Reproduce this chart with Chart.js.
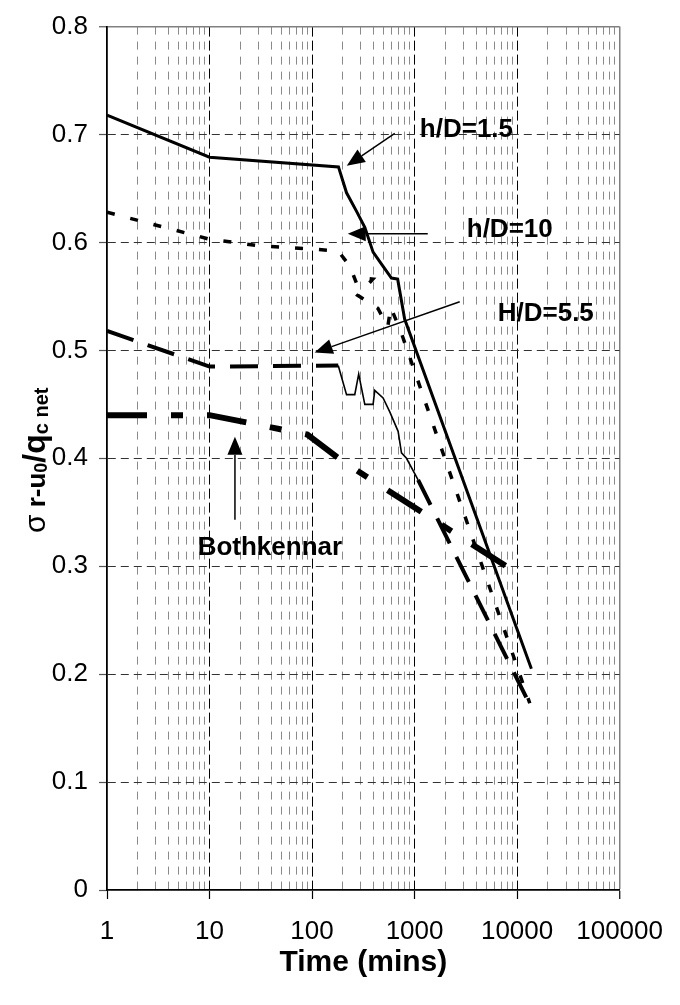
<!DOCTYPE html>
<html>
<head>
<meta charset="utf-8">
<script src="https://cdn.jsdelivr.net/npm/chart.js@4.4.0/dist/chart.umd.min.js"></script>
<style>
  html, body { margin: 0; padding: 0; background: #fff; }
  #wrap { width: 680px; height: 1005px; }
</style>
</head>
<body>
<div id="wrap"><canvas id="chart" width="680" height="1005"></canvas></div>
<script>
// values
const xMajorTicks = [1, 10, 100, 1000, 10000, 100000];

const hd15Time  = [1, 10, 181, 217, 271, 327, 394, 476, 595, 684, 800, 13780];
const hd15Ratio = [0.718, 0.679, 0.670, 0.646, 0.629, 0.614, 0.591, 0.580, 0.567, 0.566, 0.529, 0.205];

const hd10Time  = [1, 10, 30, 100, 180, 234, 272, 313, 391, 279, 438, 548, 586, 750, 13300];
const hd10Ratio = [0.628, 0.603, 0.597, 0.594, 0.592, 0.578, 0.562, 0.567, 0.566, 0.551, 0.539, 0.522, 0.540, 0.515, 0.173];

const hd55HeadTime  = [1, 10, 180];
const hd55HeadRatio = [0.518, 0.485, 0.486];
const hd55MidTime   = [180, 217, 261, 285, 327, 394, 409, 493, 573, 691, 745, 834, 1082];
const hd55MidRatio  = [0.486, 0.459, 0.459, 0.478, 0.450, 0.450, 0.463, 0.456, 0.443, 0.425, 0.405, 0.400, 0.380];
const hd55TailTime  = [1082, 13270];
const hd55TailRatio = [0.380, 0.172];

const bothTime  = [1, 10, 90, 200, 10600];
const bothRatio = [0.440, 0.440, 0.422, 0.397, 0.292];

// annotations (data coordinates)
const noteText   = ['h/D=1.5', 'h/D=10', 'H/D=5.5', 'Bothkennar'];
const noteTime   = [1125, 3228, 6470, 38.8];
const noteRatio  = [0.704, 0.612, 0.534, 0.317];
const arrowFromT = [641, 1345, 2756, 17.7];
const arrowFromR = [0.701, 0.608, 0.545, 0.343];
const arrowToT   = [218, 223, 106, 17.7];
const arrowToR   = [0.671, 0.608, 0.498, 0.420];

const FONT = '"Liberation Sans", Arial, sans-serif';

function pts(xs, ys) {
    return xs.map((x, i) => ({ x: x, y: ys[i] }));
}

// every 1..9 x 10^k for the minor grid
const xGridTicks = [];
xMajorTicks.forEach((m, i) => {
    const last = i === xMajorTicks.length - 1;
    for (let k = 1; k <= (last ? 1 : 9); k++) xGridTicks.push(m * k);
});
const isMajor = v => xMajorTicks.includes(v);

function drawArrow(ctx, x0, y0, x1, y1) {
    const ang = Math.atan2(y1 - y0, x1 - x0);
    const len = 18, half = 7.5;
    const bx = x1 - len * Math.cos(ang), by = y1 - len * Math.sin(ang);
    ctx.beginPath();
    ctx.moveTo(x0, y0);
    ctx.lineTo(bx, by);
    ctx.stroke();
    ctx.beginPath();
    ctx.moveTo(x1, y1);
    ctx.lineTo(bx + half * Math.sin(ang), by - half * Math.cos(ang));
    ctx.lineTo(bx - half * Math.sin(ang), by + half * Math.cos(ang));
    ctx.closePath();
    ctx.fill();
}

const decorations = {
    id: 'decorations',
    afterDraw(chart) {
        const { ctx, chartArea: a, scales: { x, y } } = chart;
        ctx.save();
        ctx.fillStyle = '#000';
        ctx.strokeStyle = '#000';
        ctx.lineWidth = 1.5;

        // arrows
        for (let i = 0; i < noteText.length; i++) {
            drawArrow(ctx,
                x.getPixelForValue(arrowFromT[i]), y.getPixelForValue(arrowFromR[i]),
                x.getPixelForValue(arrowToT[i]), y.getPixelForValue(arrowToR[i]));
        }

        // labels
        ctx.font = 'bold 26px ' + FONT;
        ctx.textBaseline = 'middle';
        noteText.forEach((t, i) => {
            ctx.textAlign = i === 3 ? 'center' : 'left';
            ctx.fillText(t, x.getPixelForValue(noteTime[i]), y.getPixelForValue(noteRatio[i]));
        });

        // x title
        ctx.textAlign = 'center';
        ctx.font = 'bold 30px ' + FONT;
        ctx.fillText('Time (mins)', (a.left + a.right) / 2, 963);

        // y title: σ r-u0/qc net
        const parts = [
            { t: '\u03C3', f: '30px ' + FONT, dy: 0 },
            { t: ' r-u', f: 'bold 26px ' + FONT, dy: 0 },
            { t: '0', f: 'bold 18px ' + FONT, dy: 2 },
            { t: '/q', f: 'bold 32px ' + FONT, dy: 0 },
            { t: 'c net', f: 'bold 20px ' + FONT, dy: 3 }
        ];
        let total = 0;
        parts.forEach(p => { ctx.font = p.f; p.w = ctx.measureText(p.t).width; total += p.w; });
        ctx.translate(45, (a.top + a.bottom) / 2 + 2);
        ctx.rotate(-Math.PI / 2);
        ctx.textAlign = 'left';
        ctx.textBaseline = 'alphabetic';
        let cx = -total / 2;
        parts.forEach(p => {
            ctx.font = p.f;
            ctx.fillText(p.t, cx, p.dy);
            cx += p.w;
        });
        ctx.restore();
    }
};

const line = { showLine: true, pointRadius: 0, borderColor: '#000', backgroundColor: '#000',
               tension: 0, borderCapStyle: 'butt', borderJoinStyle: 'miter' };

new Chart(document.getElementById('chart'), {
    type: 'scatter',
    data: {
        datasets: [
            Object.assign({ label: 'Bothkennar', data: pts(bothTime, bothRatio),
                borderWidth: 6, borderDash: [40, 24, 12, 24] }, line),
            Object.assign({ label: 'H/D=5.5', data: pts(hd55HeadTime, hd55HeadRatio),
                borderWidth: 4, borderDash: [28, 15] }, line),
            Object.assign({ label: 'H/D=5.5 mid', data: pts(hd55MidTime, hd55MidRatio),
                borderWidth: 1.6 }, line),
            Object.assign({ label: 'H/D=5.5 tail', data: pts(hd55TailTime, hd55TailRatio),
                borderWidth: 4, borderDash: [28, 15] }, line),
            Object.assign({ label: 'h/D=10', data: pts(hd10Time, hd10Ratio),
                borderWidth: 3.5, borderDash: [8, 16] }, line),
            Object.assign({ label: 'h/D=1.5', data: pts(hd15Time, hd15Ratio),
                borderWidth: 3 }, line)
        ]
    },
    options: {
        responsive: false,
        animation: false,
        layout: { padding: { top: 24, right: 60, left: 0, bottom: 0 } },
        plugins: { legend: { display: false }, tooltip: { enabled: false } },
        scales: {
            x: {
                type: 'logarithmic',
                min: 1,
                max: 100000,
                afterBuildTicks: s => { s.ticks = xGridTicks.map(v => ({ value: v })); },
                afterFit: s => { s.height = 115; },
                ticks: {
                    autoSkip: false,
                    maxRotation: 0,
                    padding: 17,
                    color: '#000',
                    font: { family: FONT, size: 26 },
                    callback: v => isMajor(v) ? String(v) : ''
                },
                grid: {
                    color: c => {
                        const v = c.tick && c.tick.value;
                        if (v === 1) return 'rgba(0,0,0,0)';
                        if (v === 100000) return '#808080';
                        return isMajor(v) ? '#000' : '#8a8a8a';
                    },
                    lineWidth: c => (c.tick && c.tick.value === 100000) ? 1.5 : 1,
                    tickLength: 9,
                    tickWidth: 1.2,
                    tickColor: c => (c.tick && isMajor(c.tick.value)) ? '#000' : 'rgba(0,0,0,0)'
                },
                border: {
                    color: '#000',
                    width: 1.8,
                    dash: c => {
                        if (!c.tick) return [];
                        const v = c.tick.value;
                        if (v === 100000) return [];
                        return isMajor(v) ? [10, 4] : [8, 7];
                    }
                }
            },
            y: {
                min: 0,
                max: 0.8,
                afterFit: s => { s.width = 107; },
                ticks: {
                    stepSize: 0.1,
                    padding: 11,
                    color: '#000',
                    font: { family: FONT, size: 26 },
                    callback: v => String(parseFloat(Number(v).toFixed(1)))
                },
                grid: {
                    color: c => {
                        const v = c.tick ? Math.round(c.tick.value * 10) : -1;
                        if (v === 0) return 'rgba(0,0,0,0)';
                        if (v === 8) return '#808080';
                        return '#333';
                    },
                    lineWidth: c => (c.tick && Math.round(c.tick.value * 10) === 8) ? 1.5 : 1,
                    tickLength: 8,
                    tickWidth: 1.2,
                    tickColor: '#555'
                },
                border: {
                    color: '#000',
                    width: 1.8,
                    dash: c => {
                        if (!c.tick) return [];
                        return Math.round(c.tick.value * 10) === 8 ? [] : [8, 5];
                    }
                }
            }
        }
    },
    plugins: [decorations]
});
</script>
</body>
</html>
